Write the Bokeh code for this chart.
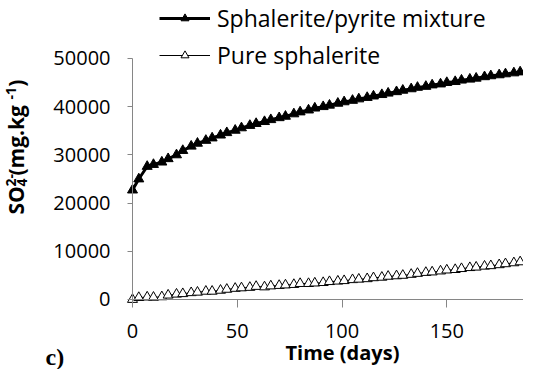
import math
from bokeh.plotting import figure
from bokeh.models import (Range1d, FixedTicker, Legend, LegendItem, Label,
                          ColumnDataSource)
from bokeh.embed import file_html
from bokeh.resources import INLINE

# ---- data ----
days = [0, 3, 7, 10, 14, 17, 21, 24, 28, 31, 35, 38, 42, 45, 49, 52, 56, 59,
        63, 66, 70, 73, 77, 80, 84, 87, 91, 94, 98, 101, 105, 108, 112, 115,
        119, 122, 126, 129, 133, 136, 140, 143, 147, 150, 154, 157, 161, 164,
        168, 171, 175, 178, 182, 185, 189]
mixture = [22700, 25000, 27600, 28000, 28500, 29200, 30000, 30900, 31800,
           32400, 33000, 33500, 34100, 34600, 35100, 35600, 36100, 36500,
           36900, 37300, 37700, 38000, 38500, 38900, 39300, 39700, 40000,
           40300, 40700, 41000, 41300, 41600, 41900, 42200, 42500, 42800,
           43100, 43400, 43700, 44000, 44200, 44500, 44700, 45000, 45200,
           45500, 45700, 45900, 46200, 46400, 46600, 46800, 47000, 47200,
           47500]
pure = [0, 400, 500, 450, 550, 900, 1100, 1200, 1400, 1500, 1700, 1700, 1900,
        2100, 2300, 2400, 2500, 2700, 2600, 2800, 2900, 3000, 3100, 3300,
        3300, 3400, 3500, 3700, 3800, 3900, 4100, 4200, 4300, 4500, 4600,
        4800, 4900, 5000, 5200, 5400, 5600, 5700, 5900, 6100, 6200, 6400,
        6600, 6700, 6900, 7000, 7200, 7400, 7600, 7800, 8000]
series_names = ["Sphalerite/pyrite mixture", "Pure sphalerite"]
x_ticks = [0, 50, 100, 150]
y_ticks = [0, 10000, 20000, 30000, 40000, 50000]

src = ColumnDataSource(dict(days=days, mixture=mixture, pure=pure))

# The frame fills the whole canvas; the axes are pinned at x=0 / y=0 so the
# titles, legend and panel tag can sit inside the frame without clipping.
p = figure(width=523, height=369, output_backend="svg", toolbar_location=None,
           x_range=Range1d(-63.0, 186.6), y_range=Range1d(-14523, 62033),
           min_border_left=0, min_border_right=0, min_border_top=0,
           min_border_bottom=0)
p.outline_line_color = None
p.grid.visible = False
p.background_fill_color = "white"
p.border_fill_color = "white"

axis_color = "#868686"
font = "Open Sans"

for ax in (p.xaxis[0], p.yaxis[0]):
    ax.axis_line_color = axis_color
    ax.major_tick_line_color = axis_color
    ax.minor_tick_line_color = None
    ax.major_tick_in = 0
    ax.major_label_text_font = font
    ax.major_label_text_font_size = "20px"
    ax.major_label_text_color = "#000000"
    ax.fixed_location = 0

p.xaxis[0].ticker = FixedTicker(ticks=x_ticks)
p.yaxis[0].ticker = FixedTicker(ticks=y_ticks)
p.xaxis[0].bounds = (0, 186.6)
p.yaxis[0].bounds = (0, 50000)
p.xaxis[0].major_tick_out = 8
p.yaxis[0].major_tick_out = 5
p.xaxis[0].major_label_standoff = 17
p.yaxis[0].major_label_standoff = 17

# series
l1 = p.line("days", "mixture", source=src, line_color="black", line_width=3)
s1 = p.scatter("days", "mixture", source=src, marker="triangle", size=10,
               fill_color="black", line_color="black", line_width=1)
l2 = p.line("days", "pure", source=src, line_color="black", line_width=1)
s2 = p.scatter("days", "pure", source=src, marker="triangle", size=10,
               fill_color="white", line_color="black", line_width=1)

legend = Legend(items=[LegendItem(label=series_names[0], renderers=[l1, s1]),
                       LegendItem(label=series_names[1], renderers=[l2, s2])],
                location=(159, 298), orientation="vertical",
                padding=0, margin=0, spacing=5,
                glyph_width=51, glyph_height=20, label_height=20,
                label_standoff=7,
                label_text_font=font, label_text_font_size="23px",
                label_text_color="#000000",
                background_fill_alpha=0, border_line_alpha=0)
p.add_layout(legend, "center")

# x axis title
p.add_layout(Label(x=100.2, y=-10900, text="Time (days)",
                   text_align="center", text_baseline="middle",
                   text_font=font, text_font_style="bold",
                   text_font_size="20px", text_color="#000000"))

# y axis title, built from pieces (rotated)
yl_font = "21px"
small = "14px"
pieces = [
    ("SO", -55.4, 17635, yl_font),
    ("4", -52.7, 23444, small),
    ("2-", -57.9, 23444, small),
    ("(mg.kg", -55.4, 25726, yl_font),
    ("-1", -57.9, 41500, small),
    (")", -55.4, 44155, yl_font),
]
for txt, fx, fy, fs in pieces:
    p.add_layout(Label(x=fx, y=fy, text=txt, angle=math.pi / 2,
                       text_align="left", text_baseline="middle",
                       text_font=font, text_font_style="bold",
                       text_font_size=fs, text_color="#000000"))

# panel tag
p.add_layout(Label(x=-41.5, y=-11826, text="c)", text_align="left",
                   text_baseline="middle",
                   text_font="Liberation Serif", text_font_style="bold",
                   text_font_size="24px", text_color="#000000"))

open("out.html", "w").write(file_html(p, INLINE))
